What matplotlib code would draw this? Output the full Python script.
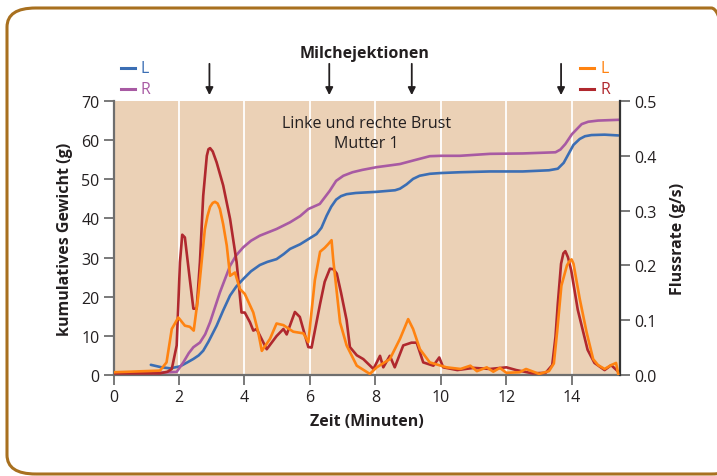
import matplotlib
matplotlib.use("Agg")
import matplotlib.pyplot as plt
from matplotlib.patches import FancyBboxPatch

plt.rcParams['font.family'] = ['Open Sans', 'DejaVu Sans']

# ---------------- data ----------------
# cumulative weight (g), left breast (blue)
cumL_t = [1.14, 1.45, 1.73, 2.03, 2.25, 2.44, 2.6, 2.74, 2.9, 3.15, 3.35, 3.56, 3.75,
          3.96, 4.2, 4.47, 4.7, 4.98, 5.2, 5.39, 5.7, 5.95, 6.2, 6.35, 6.51, 6.65,
          6.8, 6.95, 7.12, 7.4, 8.04, 8.6, 8.75, 8.95, 9.15, 9.35, 9.66, 10.0,
          10.58, 11.5, 12.5, 13.3, 13.57, 13.75, 13.9, 14.05, 14.24, 14.4, 14.6,
          15.0, 15.42]
cumL_g = [2.6, 2.0, 1.7, 2.2, 3.2, 4.1, 5.0, 6.2, 8.5, 12.6, 16.5, 20.3, 22.6,
          24.5, 26.5, 28.1, 28.9, 29.6, 30.9, 32.2, 33.4, 34.7, 36.0, 37.6, 40.7,
          43.0, 44.8, 45.7, 46.2, 46.5, 46.8, 47.2, 47.6, 48.7, 50.1, 50.9, 51.4,
          51.6, 51.8, 52.0, 52.0, 52.3, 52.7, 54.2, 56.5, 58.8, 60.3, 61.0, 61.3,
          61.4, 61.2]
# cumulative weight (g), right breast (purple)
cumR_t = [1.2, 1.93, 2.13, 2.3, 2.44, 2.64, 2.8, 2.95, 3.25, 3.56, 3.75, 3.96,
          4.2, 4.47, 4.98, 5.39, 5.7, 5.95, 6.3, 6.6, 6.8, 7.02, 7.3, 7.6, 8.04,
          8.4, 8.75, 9.2, 9.66, 10.0, 10.58, 11.5, 12.5, 13.5, 13.65, 13.8, 14.0,
          14.3, 14.5, 14.8, 15.45]
cumR_g = [0.5, 0.8, 3.2, 5.6, 7.1, 8.3, 10.4, 13.5, 21.1, 27.9, 30.6, 32.6, 34.3,
          35.6, 37.3, 39.0, 40.6, 42.4, 43.7, 47.0, 49.6, 50.9, 51.8, 52.4, 53.1,
          53.5, 53.9, 54.9, 55.9, 56.0, 56.0, 56.5, 56.6, 56.9, 57.6, 59.0, 61.5,
          64.1, 64.7, 65.0, 65.2]
# flow rate (g/s), left breast (orange)
flowL_t = [0.0, 1.42, 1.62, 1.78, 1.98, 2.18, 2.33, 2.45, 2.59, 2.79, 2.87, 2.95,
           3.03, 3.1, 3.18, 3.25, 3.35, 3.46, 3.56, 3.71, 3.86, 4.01, 4.27, 4.42,
           4.53, 4.78, 4.98, 5.19, 5.49, 5.8, 5.95, 6.15, 6.31, 6.45, 6.56, 6.66,
           6.71, 6.92, 7.12, 7.43, 7.83, 8.04, 8.44, 8.75, 9.0, 9.15, 9.36, 9.66,
           10.17, 10.6, 10.9, 11.1, 11.4, 11.6, 11.8, 12.0, 12.4, 12.6, 13.0, 13.3,
           13.45, 13.55, 13.68, 13.85, 13.92, 13.99, 14.05, 14.1, 14.24, 14.45,
           14.65, 14.8, 15.0, 15.2, 15.35, 15.42]
flowL_v = [0.005, 0.008, 0.023, 0.084, 0.105, 0.090, 0.088, 0.081, 0.145, 0.266,
           0.290, 0.307, 0.314, 0.316, 0.313, 0.303, 0.275, 0.236, 0.181, 0.187,
           0.157, 0.148, 0.114, 0.078, 0.044, 0.066, 0.094, 0.091, 0.079, 0.076,
           0.060, 0.173, 0.225, 0.232, 0.239, 0.246, 0.211, 0.096, 0.054, 0.017,
           0.002, 0.014, 0.029, 0.066, 0.102, 0.084, 0.047, 0.023, 0.014, 0.011,
           0.017, 0.007, 0.014, 0.006, 0.013, 0.004, 0.005, 0.011, 0.002, 0.007,
           0.021, 0.079, 0.163, 0.200, 0.207, 0.211, 0.203, 0.186, 0.139, 0.078,
           0.029, 0.018, 0.011, 0.018, 0.022, 0.0]
# flow rate (g/s), right breast (red)
flowR_t = [0.0, 1.42, 1.65, 1.78, 1.93, 2.03, 2.1, 2.18, 2.33, 2.44, 2.54, 2.64,
           2.74, 2.85, 2.9, 2.95, 3.03, 3.15, 3.35, 3.56, 3.76, 3.91, 4.01, 4.17,
           4.27, 4.37, 4.68, 4.98, 5.19, 5.29, 5.54, 5.69, 5.95, 6.05, 6.31, 6.45,
           6.61, 6.72, 6.82, 6.95, 7.12, 7.22, 7.43, 7.63, 7.94, 8.14, 8.24, 8.44,
           8.59, 8.85, 9.1, 9.26, 9.46, 9.77, 9.95, 10.07, 10.5, 11.0, 11.5, 12.0,
           12.3, 12.8, 13.2, 13.4, 13.5, 13.57, 13.67, 13.74, 13.8, 13.88, 13.98,
           14.18, 14.48, 14.69, 15.0, 15.2, 15.4]
flowR_v = [0.003, 0.003, 0.006, 0.011, 0.054, 0.206, 0.256, 0.251, 0.175, 0.121,
           0.121, 0.206, 0.327, 0.400, 0.412, 0.414, 0.408, 0.388, 0.346, 0.285,
           0.206, 0.114, 0.114, 0.096, 0.081, 0.084, 0.047, 0.071, 0.084, 0.074,
           0.115, 0.106, 0.051, 0.050, 0.130, 0.170, 0.194, 0.193, 0.185, 0.150,
           0.100, 0.051, 0.036, 0.029, 0.011, 0.035, 0.014, 0.035, 0.014, 0.054,
           0.059, 0.059, 0.023, 0.017, 0.032, 0.014, 0.009, 0.013, 0.011, 0.014,
           0.009, 0.003, 0.004, 0.018, 0.070, 0.130, 0.203, 0.222, 0.226, 0.215,
           0.191, 0.119, 0.046, 0.022, 0.009, 0.018, 0.007]

ejection_times = [2.93, 6.59, 9.11, 13.67]
x_ticks = [0, 2, 4, 6, 8, 10, 12, 14]
y_left_ticks = [0, 10, 20, 30, 40, 50, 60, 70]
y_right_ticks = [0.0, 0.1, 0.2, 0.3, 0.4, 0.5]

# ---------------- style ----------------
C_BLUE = '#3B6EB4'
C_PURPLE = '#A85AA3'
C_ORANGE = '#FF8311'
C_RED = '#B0282E'
C_BG = '#EBD1B6'
C_TXT = '#231F20'
C_AX = '#6E6E6E'

fig = plt.figure(figsize=(7.17, 4.77), dpi=100)
W, H = 717, 477
ax = fig.add_axes([113.5 / W, 101 / H, (620 - 113.5) / W, 274 / H])
ax.set_facecolor(C_BG)
ax.set_xlim(0, 15.47)
ax.set_ylim(0, 70)
for xv in x_ticks[1:]:
    ax.axvline(xv, color='white', lw=1.3, zorder=1)

ax2 = ax.twinx()
ax2.set_ylim(0, 0.5)

lw = 1.9
kw = dict(lw=lw, solid_joinstyle='round', solid_capstyle='round')
ax.plot(cumL_t, cumL_g, color=C_BLUE, zorder=3, **kw)
ax.plot(cumR_t, cumR_g, color=C_PURPLE, zorder=3, **kw)
ax2.plot(flowR_t, flowR_v, color=C_RED, zorder=3, **kw)
ax2.plot(flowL_t, flowL_v, color=C_ORANGE, zorder=4, **kw)

for a in (ax, ax2):
    a.spines['top'].set_visible(False)
ax.spines['left'].set_color(C_AX)
ax.spines['bottom'].set_color(C_AX)
ax.spines['right'].set_visible(False)
ax2.spines['left'].set_visible(False)
ax2.spines['bottom'].set_visible(False)
ax2.spines['right'].set_color('#333333')
for s in ('left', 'bottom'):
    ax.spines[s].set_linewidth(1.6)
ax2.spines['right'].set_linewidth(1.6)

ax.set_xticks(x_ticks)
ax.set_yticks(y_left_ticks)
ax2.set_yticks(y_right_ticks)
ax2.set_yticklabels([f'{v:.1f}' for v in y_right_ticks])
ax.tick_params(axis='both', direction='out', length=7, width=1.3, color=C_AX,
               labelsize=11.5, labelcolor=C_TXT, pad=3)
ax2.tick_params(axis='y', direction='out', length=7, width=1.3, color=C_AX,
                labelsize=11.5, labelcolor=C_TXT, pad=3)

ax.set_xlabel('Zeit (Minuten)', fontsize=11.5, fontweight='bold', color=C_TXT, labelpad=6)
ax.set_ylabel('kumulatives Gewicht (g)', fontsize=11.5, fontweight='bold', color=C_TXT, labelpad=6)
ax2.set_ylabel('Flussrate (g/s)', fontsize=11.5, fontweight='bold', color=C_TXT,
               rotation=90, labelpad=10)

ax.text(0.5, 0.95, 'Linke und rechte Brust\nMutter 1', transform=ax.transAxes,
        ha='center', va='top', fontsize=11.5, color=C_TXT, linespacing=1.35)

# ejection arrows
for t in ejection_times:
    ax.annotate('', xy=(t, 71.5), xytext=(t, 79.5), xycoords='data', textcoords='data',
                annotation_clip=False,
                arrowprops=dict(arrowstyle='-|>', color=C_TXT, lw=1.3,
                                mutation_scale=11, shrinkA=0, shrinkB=0))
fig.text(365 / W, 1 - 54 / H, 'Milchejektionen', ha='center', va='center',
         fontsize=11.5, fontweight='bold', color=C_TXT)

# legends (manual)
def leg(x0, y0, color, label):
    fig.add_artist(plt.Line2D([x0 / W, (x0 + 14) / W], [1 - y0 / H, 1 - y0 / H],
                              color=color, lw=2.2))
    fig.text((x0 + 20) / W, 1 - y0 / H, label, color=color, fontsize=11.5,
             ha='left', va='center')

leg(121, 69, C_BLUE, 'L')
leg(121, 90, C_PURPLE, 'R')
leg(580, 69, C_ORANGE, 'L')
leg(580, 90, C_RED, 'R')

# rounded border
border = FancyBboxPatch((7 / W, 2 / H), (740 - 7) / W, (468 - 2) / H,
                        boxstyle='round,pad=0,rounding_size=0.04',
                        transform=fig.transFigure, fill=False,
                        edgecolor='#A8701F', lw=2.2, clip_on=False)
fig.add_artist(border)

fig.savefig('out.png', dpi=100, facecolor='white')
